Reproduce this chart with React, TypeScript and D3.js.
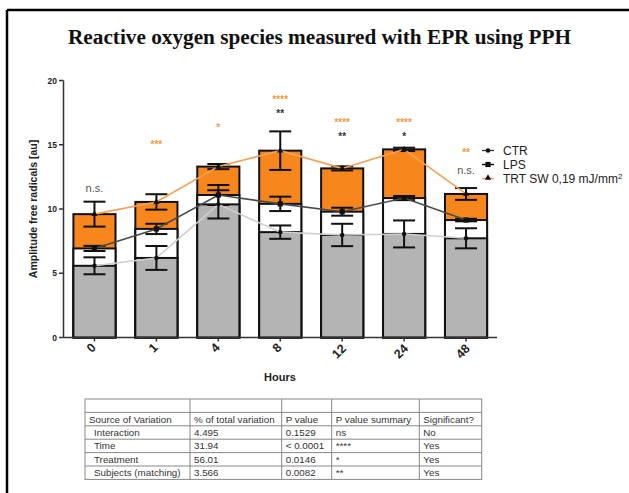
import React from "react";
import * as d3 from "d3";

const hours = ["0", "1", "4", "8", "12", "24", "48"];
const ctrMean = [5.58, 6.19, 10.36, 8.2, 7.98, 8.06, 7.72];
const ctrErr = [0.66, 0.93, 1.1, 0.52, 0.87, 1.05, 0.78];
const lpsMean = [6.93, 8.45, 11.09, 10.4, 9.79, 10.85, 9.14];
const lpsErr = [0.2, 0.4, 0.78, 0.56, 0.31, 0.16, 0.1];
const trtMean = [9.6, 10.55, 13.3, 14.54, 13.16, 14.64, 11.17];
const trtErr = [0.97, 0.6, 0.2, 1.5, 0.16, 0.13, 0.46];

const trtSig = ["", "***", "*", "****", "****", "****", "**"];
const trtSigLevel = [0, 15.2, 16.5, 18.7, 16.85, 16.85, 14.55];
const lpsSig = ["n.s.", "", "", "**", "**", "*", "n.s."];
const lpsSigLevel = [11.6, 0, 0, 17.6, 15.8, 15.8, 13.0];

const yTicks = [0, 5, 10, 15, 20];

const tableHeader = ["Source of Variation", "% of total variation", "P value", "P value summary", "Significant?"];
const tableRows = [
  ["Interaction", "4.495", "0.1529", "ns", "No"],
  ["Time", "31.94", "< 0.0001", "****", "Yes"],
  ["Treatment", "56.01", "0.0146", "*", "Yes"],
  ["Subjects (matching)", "3.566", "0.0082", "**", "Yes"],
];
const tableCols = [85, 190, 281.7, 331.7, 419.3, 481.7];

const ORANGE = "#f7861c";
const ORANGE_LINE = "#f2a158";
const GREY = "#b4b4b4";
const SANS = "Liberation Sans, Arial, sans-serif";

export default function App() {
  const W = 629, H = 493;
  const x = d3.scaleBand<string>().domain(hours).range([63.5, 497]).paddingInner(0.32).paddingOuter(0.16);
  const y = d3.scaleLinear().domain([0, 20]).range([337.5, 80.5]);
  const bw = x.bandwidth();
  const cx = (h: string) => (x(h) as number) + bw / 2;
  const cap = 11;

  const series = [
    { mean: trtMean, err: trtErr, fill: ORANGE, line: ORANGE_LINE },
    { mean: lpsMean, err: lpsErr, fill: "#ffffff", line: "#4a4a4a" },
    { mean: ctrMean, err: ctrErr, fill: GREY, line: "#cfcfcf" },
  ];

  const lineGen = (vals: number[]) =>
    d3.line<number>().x((_, i) => cx(hours[i])).y((v) => y(v))(vals) as string;

  const tri = d3.symbol().type(d3.symbolTriangle).size(18)() as string;

  const rowH = 13.4;
  const tableTop = 399;

  return (
    <svg width={W} height={H} style={{ position: "absolute", left: 0, top: 0, background: "#fff" }} fontFamily={SANS}>
      <rect x={0} y={0} width={W} height={H} fill="#fff" />
      {/* frame */}
      <line x1={7} y1={10} x2={W} y2={10} stroke="#000" strokeWidth={2.5} />
      <line x1={7} y1={10} x2={7} y2={H} stroke="#000" strokeWidth={2.5} />

      {/* title */}
      <text x={319.5} y={44} textAnchor="middle" fontFamily="Liberation Serif, Times New Roman, serif" fontWeight="bold"
        fontSize={20} textLength={503} lengthAdjust="spacingAndGlyphs" fill="#111">
        Reactive oxygen species measured with EPR using PPH
      </text>

      {/* bars */}
      {series.map((s, si) => (
        <g key={"bars" + si}>
          {hours.map((h, i) => (
            <rect key={h} x={x(h)} y={y(s.mean[i])} width={bw} height={y(0) - y(s.mean[i])}
              fill={s.fill} stroke="#111" strokeWidth={2} />
          ))}
        </g>
      ))}

      {/* error bars */}
      {series.map((s, si) => (
        <g key={"err" + si} stroke="#111" strokeWidth={2}>
          {hours.map((h, i) => {
            const c = cx(h);
            const hi = y(s.mean[i] + s.err[i]);
            const lo = y(s.mean[i] - s.err[i]);
            return (
              <g key={h}>
                <line x1={c} x2={c} y1={hi} y2={lo} />
                <line x1={c - cap} x2={c + cap} y1={hi} y2={hi} />
                <line x1={c - cap} x2={c + cap} y1={lo} y2={lo} />
              </g>
            );
          })}
        </g>
      ))}

      {/* connecting lines */}
      {series.map((s, si) => (
        <path key={"line" + si} d={lineGen(s.mean)} fill="none" stroke={s.line} strokeWidth={1.6} />
      ))}

      {/* markers */}
      {hours.map((h, i) => (
        <g key={"m" + h} fill="#111">
          <circle cx={cx(h)} cy={y(ctrMean[i])} r={2.2} />
          <rect x={cx(h) - 2.6} y={y(lpsMean[i]) - 2.6} width={5.2} height={5.2} />
          <path d={tri} transform={`translate(${cx(h)},${y(trtMean[i])})`} />
        </g>
      ))}

      {/* axes */}
      <g stroke="#333" strokeWidth={1.5}>
        <line x1={63.5} x2={63.5} y1={y(20)} y2={y(0)} />
        <line x1={63.5} x2={497} y1={y(0)} y2={y(0)} />
        {yTicks.map((t) => (
          <line key={t} x1={59} x2={63.5} y1={y(t)} y2={y(t)} />
        ))}
        {hours.map((h) => (
          <line key={h} x1={cx(h)} x2={cx(h)} y1={y(0)} y2={y(0) + 4} />
        ))}
      </g>
      {yTicks.map((t) => (
        <text key={t} x={57} y={y(t) + 3} textAnchor="end" fontSize={8.5} fontWeight="bold" fill="#222">
          {t}
        </text>
      ))}
      {hours.map((h) => {
        const lx = cx(h) - 3;
        const ly = 348 + (h.length - 1) * 3.5;
        return (
          <text key={h} x={lx} y={ly} textAnchor="middle" dominantBaseline="central" fontSize={12.5}
            fontWeight="bold" fill="#222" transform={`rotate(-45 ${lx} ${ly})`}>
            {h}
          </text>
        );
      })}
      <text x={280} y={381} textAnchor="middle" fontSize={11} fontWeight="bold" fill="#222">Hours</text>
      <text transform={`translate(36.5,209) rotate(-90)`} textAnchor="middle" fontSize={10.5} fontWeight="bold" fill="#222">
        Amplitude free radicals [au]
      </text>

      {/* significance */}
      {hours.map((h, i) => (
        <g key={"sig" + h}>
          {trtSig[i] && (
            <text x={cx(h)} y={y(trtSigLevel[i]) + 5.5} textAnchor="middle" fontSize={10} fontWeight="bold" fill="#f39a45">
              {trtSig[i]}
            </text>
          )}
          {lpsSig[i] && (
            lpsSig[i] === "n.s." ? (
              <text x={cx(h)} y={y(lpsSigLevel[i]) + 4} textAnchor="middle" fontSize={11} fill="#555">
                {lpsSig[i]}
              </text>
            ) : (
              <text x={cx(h)} y={y(lpsSigLevel[i]) + 5.5} textAnchor="middle" fontSize={10} fontWeight="bold" fill="#333">
                {lpsSig[i]}
              </text>
            )
          )}
        </g>
      ))}

      {/* legend */}
      <g fontSize={12} fill="#222">
        <line x1={482} x2={494} y1={150.5} y2={150.5} stroke="#333" strokeWidth={1.3} />
        <circle cx={488} cy={150.5} r={2.3} fill="#111" />
        <text x={503} y={155}>CTR</text>
        <line x1={482} x2={494} y1={164.5} y2={164.5} stroke="#111" strokeWidth={1.5} />
        <rect x={485.4} y={161.9} width={5.2} height={5.2} fill="#111" />
        <text x={503} y={169}>LPS</text>
        <line x1={482} x2={494} y1={178.5} y2={178.5} stroke={ORANGE_LINE} strokeWidth={1.5} />
        <path d={tri} transform="translate(488,178)" fill="#111" />
        <text x={503} y={183}>
          TRT SW 0,19 mJ/mm<tspan dy={-4.5} fontSize={8}>2</tspan>
        </text>
      </g>

      {/* table */}
      <g fontSize={9.8} fill="#333">
        <rect x={tableCols[0]} y={tableTop} width={tableCols[5] - tableCols[0]} height={rowH * 6} fill="#fff" stroke="#888" strokeWidth={1} />
        {d3.range(1, 6).map((r) => (
          <line key={"r" + r} x1={tableCols[0]} x2={tableCols[5]} y1={tableTop + r * rowH} y2={tableTop + r * rowH} stroke="#888" strokeWidth={1} />
        ))}
        {tableCols.slice(1, 5).map((c) => (
          <line key={"c" + c} x1={c} x2={c} y1={tableTop} y2={tableTop + rowH * 6} stroke="#888" strokeWidth={1} />
        ))}
        {tableHeader.map((t, j) => (
          <text key={"h" + j} x={tableCols[j] + 4} y={tableTop + 2 * rowH - 3.3}>{t}</text>
        ))}
        {tableRows.map((row, r) =>
          row.map((t, j) => (
            <text key={r + "-" + j} x={tableCols[j] + (j === 0 ? 9 : 4)} y={tableTop + (r + 3) * rowH - 3.3}>{t}</text>
          ))
        )}
      </g>
    </svg>
  );
}
